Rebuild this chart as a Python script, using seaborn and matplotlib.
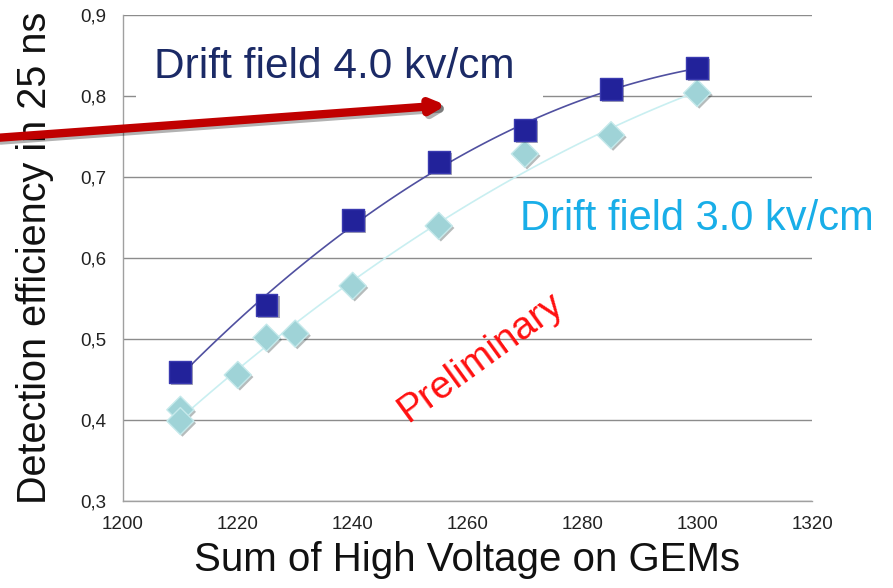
import matplotlib
matplotlib.use("Agg")
import matplotlib.pyplot as plt
import matplotlib.patheffects as pe
from matplotlib.patches import Rectangle
import seaborn as sns
import pandas as pd

# data
hv_40 = [1210, 1225, 1240, 1255, 1270, 1285, 1300]
eff_40 = [0.459, 0.541, 0.646, 0.718, 0.757, 0.808, 0.834]
hv_30 = [1210, 1210, 1220, 1225, 1230, 1240, 1255, 1270, 1285, 1300]
eff_30 = [0.412, 0.398, 0.455, 0.501, 0.506, 0.565, 0.639, 0.728, 0.751, 0.803]
xticks = [1200, 1220, 1240, 1260, 1280, 1300, 1320]
yticks = [0.3, 0.4, 0.5, 0.6, 0.7, 0.8, 0.9]
ytick_labels = ["0,3", "0,4", "0,5", "0,6", "0,7", "0,8", "0,9"]

df40 = pd.DataFrame({"hv": hv_40, "eff": eff_40})
df30 = pd.DataFrame({"hv": hv_30, "eff": eff_30})

sns.set_style("white")
plt.rcParams["font.family"] = ["Liberation Sans", "DejaVu Sans"]

fig = plt.figure(figsize=(8.93, 5.88), dpi=100)
ax = fig.add_axes([0.1377, 0.1488, 0.9093 - 0.1377, 0.9753 - 0.1488])

ax.set_xlim(1200, 1320)
ax.set_ylim(0.3, 0.9)
ax.set_xticks(xticks)
ax.set_yticks(yticks)
ax.set_yticklabels(ytick_labels)
ax.yaxis.grid(True, color="#8c8c8c", linewidth=1.0)
ax.xaxis.grid(False)
ax.set_axisbelow(True)
for s in ["top", "right"]:
    ax.spines[s].set_visible(False)
for s in ["left", "bottom"]:
    ax.spines[s].set_color("#a0a0a0")
    ax.spines[s].set_linewidth(1.0)
ax.tick_params(axis="both", which="both", direction="out", length=6, color="#a0a0a0",
               labelsize=13.5, labelcolor="#222222")
ax.tick_params(axis="x", pad=5)
ax.tick_params(axis="y", pad=6)

# white text box of the slide covering part of the grid
ax.add_patch(Rectangle((0.019, 0.814), 0.59, 0.175, transform=ax.transAxes,
                       facecolor="white", edgecolor="none", zorder=1.5))

# trendlines (2nd order polynomial fits)
sns.regplot(data=df30, x="hv", y="eff", order=2, ci=None, scatter=False, ax=ax,
            line_kws={"color": "#c9eff1", "linewidth": 1.2, "zorder": 3})
sns.regplot(data=df40, x="hv", y="eff", order=2, ci=None, scatter=False, ax=ax,
            line_kws={"color": "#5050a0", "linewidth": 1.2, "zorder": 3})

shadow = [pe.SimplePatchShadow(offset=(1.5, -1.5), alpha=0.35), pe.Normal()]
sns.scatterplot(data=df30, x="hv", y="eff", marker="D", s=190, color="#9fd3d7",
                edgecolor="#c5e9eb", linewidth=1.0, ax=ax, zorder=5)
sns.scatterplot(data=df40, x="hv", y="eff", marker="s", s=250, color="#22229a",
                edgecolor="#3a3ab0", linewidth=1.0, ax=ax, zorder=6)
for coll in ax.collections:
    coll.set_path_effects(shadow)

ax.set_xlabel("Sum of High Voltage on GEMs", fontsize=29, labelpad=6, color="#111111")
ax.set_ylabel("Detection efficiency in 25 ns", fontsize=28.5, labelpad=19, color="#111111")

ax.text(1205.4, 0.8216, "Drift field 4.0 kv/cm", fontsize=30.5, color="#1b2a66",
        ha="left", va="baseline", zorder=7)
ax.text(1269.1, 0.634, "Drift field 3.0 kv/cm", fontsize=30, color="#19aee8",
        ha="left", va="baseline", zorder=7)
ax.text(1262.3, 0.477, "Preliminary", fontsize=28, color="#ff1010", rotation=36,
        ha="center", va="center", rotation_mode="anchor", zorder=7)

ax.annotate("", xy=(449 / 893, 1 - 105 / 588), xycoords="figure fraction",
            xytext=(-5 / 893, 1 - 138 / 588), textcoords="figure fraction",
            arrowprops=dict(arrowstyle="-|>,head_length=0.8,head_width=0.4",
                            color="#c00000", linewidth=6,
                            path_effects=[pe.SimpleLineShadow(offset=(2, -2), alpha=0.3), pe.Normal()]),
            zorder=10, annotation_clip=False)

fig.savefig("out.png", dpi=100)
